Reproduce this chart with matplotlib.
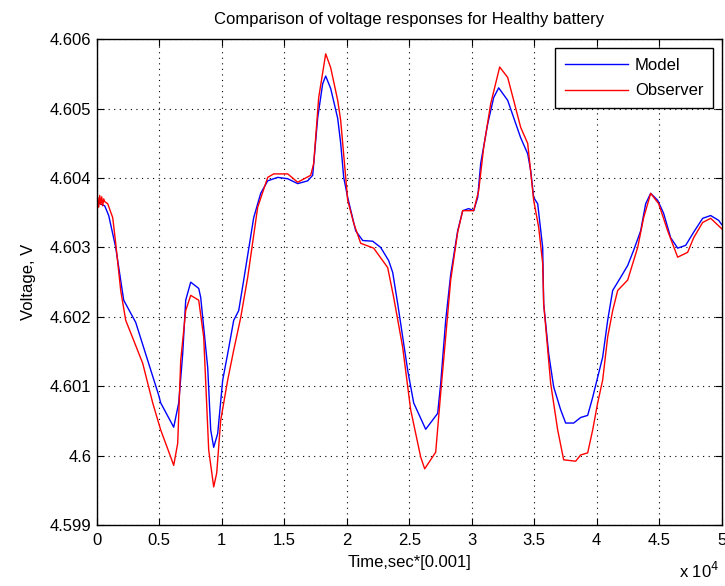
import matplotlib.pyplot as plt
import numpy as np

plt.rcParams['font.family'] = ['Liberation Sans', 'DejaVu Sans']

# time values (sec*0.001)
t_model = [0, 640, 960, 1520, 2160, 3120, 4960, 5120, 6160, 6560, 6880, 7120, 7520, 8160,
           8320, 8880, 9120, 9360, 9680, 10080, 10480, 10960, 11360, 11760, 12560, 13120,
           13680, 14480, 15280, 16080, 16880, 17280, 17680, 18080, 18320, 18720, 19280,
           19520, 19760, 20080, 20720, 21280, 22080, 22720, 23360, 23680, 24080, 24880,
           25360, 26320, 27280, 27520, 27920, 28320, 28880, 29280, 29760, 30160, 30480,
           30720, 31280, 31760, 32160, 32880, 33360, 33920, 34480, 34720, 34960, 35280,
           35680, 35760, 36160, 36560, 37120, 37520, 38160, 38720, 39280, 39680, 40080,
           40480, 40880, 41280, 41920, 42480, 42960, 43520, 43920, 44320, 44880, 45360,
           45920, 46480, 47120, 47760, 48480, 49120, 49760, 50000]
v_model = [4.60365, 4.60360, 4.60346, 4.60300, 4.60224, 4.60192, 4.60087, 4.60076, 4.60041,
           4.60076, 4.60147, 4.60224, 4.60250, 4.60241, 4.60228, 4.60127, 4.60037, 4.60012,
           4.60032, 4.60109, 4.60147, 4.60195, 4.60209, 4.60253, 4.60343, 4.60378, 4.60396,
           4.60401, 4.60399, 4.60392, 4.60396, 4.60404, 4.60487, 4.60536, 4.60547, 4.60529,
           4.60486, 4.60450, 4.60401, 4.60372, 4.60324, 4.60310, 4.60309, 4.60300, 4.60281,
           4.60264, 4.60219, 4.60123, 4.60076, 4.60038, 4.60061, 4.60104, 4.60195, 4.60261,
           4.60324, 4.60353, 4.60356, 4.60353, 4.60372, 4.60421, 4.60478, 4.60516, 4.60530,
           4.60512, 4.60487, 4.60458, 4.60435, 4.60411, 4.60372, 4.60363, 4.60300, 4.60219,
           4.60147, 4.60099, 4.60066, 4.60047, 4.60047, 4.60055, 4.60058, 4.60084, 4.60113,
           4.60142, 4.60195, 4.60238, 4.60257, 4.60274, 4.60296, 4.60324, 4.60363, 4.60378,
           4.60368, 4.60349, 4.60314, 4.60299, 4.60303, 4.60322, 4.60342, 4.60346, 4.60339,
           4.60333]

t_obs = [0, 80, 160, 240, 320, 400, 480, 560, 640, 880, 1280, 1520, 1920, 2320, 2960, 3680,
         4480, 5120, 5920, 6160, 6480, 6720, 7120, 7520, 8160, 8560, 8960, 9360, 9600,
         9920, 10480, 10960, 11520, 12080, 12880, 13680, 14160, 15280, 16080, 17120, 17360,
         17760, 18320, 18720, 19280, 19520, 20080, 20560, 21120, 22160, 23280, 23760, 24480,
         25120, 25920, 26240, 27120, 27520, 27920, 28320, 28880, 29280, 30160, 30560, 30960,
         31520, 32240, 32880, 33360, 33920, 34480, 34960, 35360, 35680, 35760, 36320, 36880,
         37360, 38320, 38720, 39280, 39680, 40080, 40480, 40880, 41280, 41680, 42480, 43280,
         43760, 44320, 44960, 45680, 46480, 47280, 47760, 48480, 49120, 50000]
v_obs = [4.60352, 4.60372, 4.60358, 4.60375, 4.60362, 4.60373, 4.60360, 4.60370, 4.60366,
         4.60363, 4.60343, 4.60306, 4.60238, 4.60195, 4.60166, 4.60133, 4.60076, 4.60037,
         4.59998, 4.59986, 4.60018, 4.60137, 4.60209, 4.60231, 4.60224, 4.60171, 4.60008,
         4.59955, 4.59975, 4.60051, 4.60109, 4.60152, 4.60199, 4.60257, 4.60358, 4.60401,
         4.60406, 4.60406, 4.60394, 4.60404, 4.60421, 4.60516, 4.60579, 4.60559, 4.60512,
         4.60483, 4.60368, 4.60335, 4.60306, 4.60299, 4.60271, 4.60228, 4.60156, 4.60066,
         4.59998, 4.59981, 4.60005, 4.60090, 4.60171, 4.60253, 4.60322, 4.60353, 4.60353,
         4.60382, 4.60444, 4.60507, 4.60560, 4.60545, 4.60512, 4.60473, 4.60450, 4.60368,
         4.60329, 4.60277, 4.60219, 4.60104, 4.60037, 4.59994, 4.59992, 4.60001, 4.60004,
         4.60037, 4.60076, 4.60109, 4.60171, 4.60209, 4.60238, 4.60253, 4.60300, 4.60343,
         4.60378, 4.60363, 4.60324, 4.60286, 4.60293, 4.60314, 4.60336, 4.60342, 4.60327]

x_ticks = [0, 0.5, 1, 1.5, 2, 2.5, 3, 3.5, 4, 4.5, 5]
x_labels = ['0', '0.5', '1', '1.5', '2', '2.5', '3', '3.5', '4', '4.5', '5']
y_ticks = [4.599, 4.6, 4.601, 4.602, 4.603, 4.604, 4.605, 4.606]
y_labels = ['4.599', '4.6', '4.601', '4.602', '4.603', '4.604', '4.605', '4.606']

fs = 12

fig = plt.figure(figsize=(7.25, 5.86), dpi=100)
ax = fig.add_axes([0.1334, 0.104, 0.862, 0.829])

ax.plot(np.array(t_model) / 1e4, v_model, color='#0000ff', lw=1.0, label='Model')
ax.plot(np.array(t_obs) / 1e4, v_obs, color='#ff0000', lw=1.0, label='Observer')

ax.set_xlim(0, 5)
ax.set_ylim(4.599, 4.606)
ax.set_xticks(x_ticks)
ax.set_xticklabels(x_labels)
ax.set_yticks(y_ticks)
ax.set_yticklabels(y_labels)
ax.tick_params(direction='in', top=True, right=True, length=5, width=0.8,
               labelsize=fs, colors='black')
ax.tick_params(axis='x', pad=6)
ax.tick_params(axis='y', pad=4)
ax.grid(True, color='black', linestyle=(0, (1, 4)), linewidth=0.8)
for s in ax.spines.values():
    s.set_linewidth(1.0)

ax.set_title('Comparison of voltage responses for Healthy battery', fontsize=fs, pad=11)
ax.set_xlabel('Time,sec*[0.001]', fontsize=fs, labelpad=5)
ax.set_ylabel('Voltage, V', fontsize=fs, labelpad=10)
fig.text(0.937, 0.008, r'x 10$^{4}$', fontsize=fs, ha='left', va='bottom')

leg = ax.legend(loc='upper right', fontsize=fs, fancybox=False, framealpha=1,
                edgecolor='black', borderaxespad=0.5, handlelength=3.8,
                handletextpad=0.4, borderpad=0.6, labelspacing=0.65)
leg.get_frame().set_linewidth(1.0)

fig.savefig('out.png', dpi=100)
